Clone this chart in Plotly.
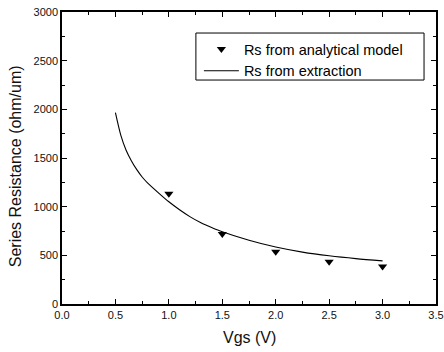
import plotly.graph_objects as go

# analytical model points
vgs_model = [1.0, 1.5, 2.0, 2.5, 3.0]
rs_model = [1133, 718, 537, 435, 385]

# extraction curve
vgs_ext = [0.5, 0.55, 0.6, 0.65, 0.7, 0.75, 0.8, 0.9, 1.0, 1.1, 1.2, 1.3, 1.4, 1.5,
           1.75, 2.0, 2.25, 2.5, 2.75, 3.0]
rs_ext = [1965, 1735, 1580, 1470, 1380, 1305, 1245, 1145, 1050, 968, 895, 835, 786, 742,
          655, 585, 533, 495, 466, 443]

x_ticks = [0.0, 0.5, 1.0, 1.5, 2.0, 2.5, 3.0, 3.5]
y_ticks = [0, 500, 1000, 1500, 2000, 2500, 3000]

FONT = "Liberation Sans, Arial"

fig = go.Figure()
fig.add_trace(go.Scatter(
    x=vgs_model, y=rs_model, mode="markers", name="Rs from analytical model",
    marker=dict(symbol="triangle-down", size=8, color="black"),
))
fig.add_trace(go.Scatter(
    x=vgs_ext, y=rs_ext, mode="lines", name="Rs from extraction",
    line=dict(color="black", width=1.1, shape="spline", smoothing=0.8),
))

axis_common = dict(
    showline=True, linecolor="black", linewidth=1.5, mirror="ticks",
    ticks="inside", ticklen=5, tickwidth=1, tickcolor="black",
    showgrid=False, zeroline=False, automargin=False,
    tickfont=dict(family=FONT, size=11, color="#111"),
    minor=dict(ticks="inside", ticklen=3, tickwidth=1, tickcolor="black", showgrid=False),
)

fig.update_xaxes(
    range=[0, 3.5], tickvals=x_ticks, ticktext=[f"{v:.1f}" for v in x_ticks],
    **axis_common,
)
fig.update_xaxes(minor_dtick=0.25)
fig.update_yaxes(
    range=[0, 3000], tickvals=y_ticks, ticktext=[str(v) for v in y_ticks],
    **axis_common,
)
fig.update_yaxes(minor_dtick=250)

fig.add_annotation(
    text="Series Resistance (ohm/um)", textangle=-90,
    xref="paper", yref="paper", x=-0.122, y=0.473,
    xanchor="center", yanchor="middle", showarrow=False,
    font=dict(family=FONT, size=16, color="#111"),
)
fig.add_annotation(
    text="Vgs (V)",
    xref="paper", yref="paper", x=0.5, y=-0.116,
    xanchor="center", yanchor="middle", showarrow=False,
    font=dict(family=FONT, size=16, color="#111"),
)

# legend frame
fig.add_shape(
    type="rect", xref="paper", yref="paper",
    x0=0.358, x1=0.968, y0=0.767, y1=0.928,
    line=dict(color="black", width=1), fillcolor="rgba(0,0,0,0)", layer="above",
)

fig.update_layout(
    width=444, height=352,
    margin=dict(l=62, r=8, t=12, b=48),
    paper_bgcolor="white", plot_bgcolor="white",
    showlegend=True,
    legend=dict(
        x=0.366, y=0.928, xanchor="left", yanchor="top",
        borderwidth=0, bgcolor="rgba(0,0,0,0)",
        font=dict(family=FONT, size=14.5, color="black"),
        itemwidth=35, tracegroupgap=0,
    ),
)

fig.write_html("out.html")
